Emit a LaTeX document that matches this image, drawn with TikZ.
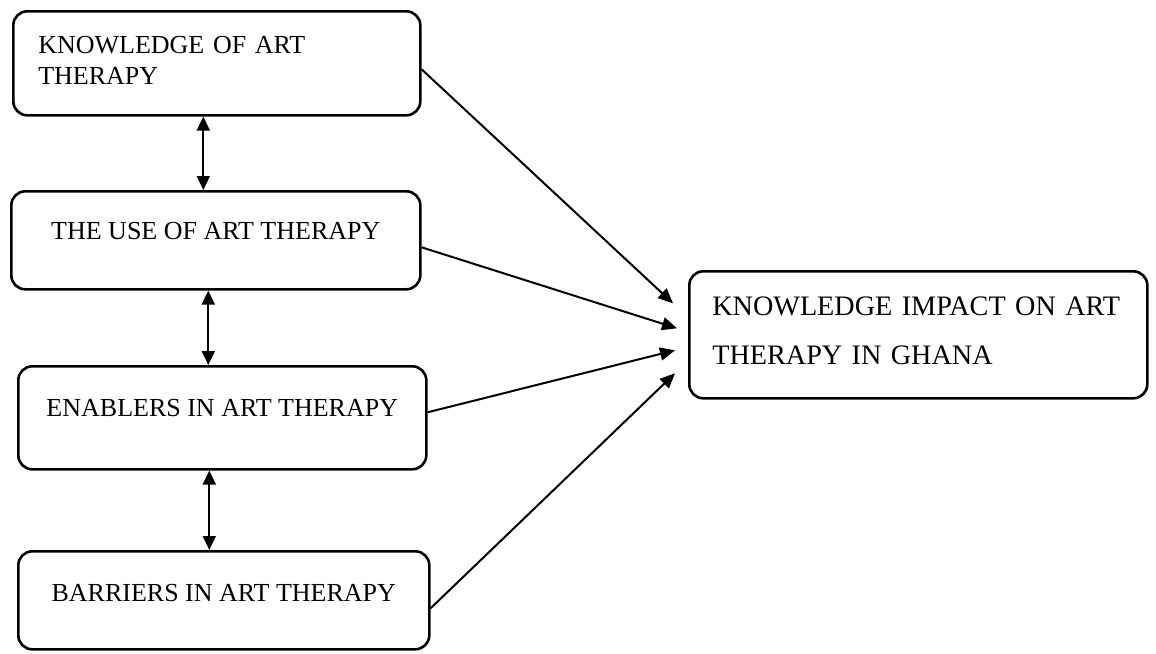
\documentclass[tikz,border=0pt]{standalone}
\usepackage{fontspec}
\setmainfont{Liberation Serif}
\usetikzlibrary{arrows.meta}

\begin{document}
\begin{tikzpicture}[x=0.5pt, y=-0.5pt,
        box/.style={draw, line width=1.3pt, rounded corners=7pt, inner xsep=12.5pt, inner ysep=0pt, anchor=north west},
        seta/.style={line width=1pt, -{Triangle[length=7.5pt, width=6.5pt]}},
        dupla/.style={line width=1pt, {Triangle[length=7pt, width=6.5pt]}-{Triangle[length=7pt, width=6.5pt]}}]
        \useasboundingbox (0,0) rectangle (1156,653);

        % Caixas da esquerda
        \node[box, font=\fontsize{13}{15.5}\selectfont, text width=178.5pt, align=left, text height=21pt, text depth=31pt] (know) at (12,10) {KNOWLEDGE OF ART\\THERAPY};
        \node[box, font=\fontsize{13}{15.5}\selectfont, minimum width=204.5pt, text height=24pt, text depth=25pt] (use) at (10,190) {THE USE OF ART THERAPY};
        \node[box, font=\fontsize{13}{15.5}\selectfont, minimum width=204pt, text height=25pt, text depth=26.5pt] (enab) at (17,365) {ENABLERS IN ART THERAPY};
        \node[box, font=\fontsize{13}{15.5}\selectfont, minimum width=205.5pt, text height=25pt, text depth=24pt] (barr) at (17,550) {BARRIERS IN ART THERAPY};

        % Caixa da direita
        \node[box, font=\fontsize{14.1}{24.5}\selectfont, inner xsep=11.5pt, text width=206pt, align=left, text height=22pt, text depth=41.5pt] (impact) at (688,270) {KNOWLEDGE IMPACT ON ART\\THERAPY IN GHANA};

        % Setas duplas
        \draw[dupla] ([xshift=-6.75pt]know.south) -- ([xshift=-6.25pt]use.north);
        \draw[dupla] ([xshift=-3.75pt]use.south) -- ([xshift=-7pt]enab.north);
        \draw[dupla] ([xshift=-6.5pt]enab.south) -- ([xshift=-7.25pt]barr.north);

        % Setas para a direita
        \draw[seta] ([yshift=-3pt]know.east) -- ([xshift=-7.5pt, yshift=15.75pt]impact.west);
        \draw[seta] ([yshift=-3.5pt]use.east) -- ([xshift=-5.5pt, yshift=3.25pt]impact.west);
        \draw[seta] ([yshift=2.75pt]enab.east) -- ([xshift=-6.5pt, yshift=-7.75pt]impact.west);
        \draw[seta] ([yshift=-4pt]barr.east) -- ([xshift=-6.5pt, yshift=-19.25pt]impact.west);
\end{tikzpicture}
\end{document}
